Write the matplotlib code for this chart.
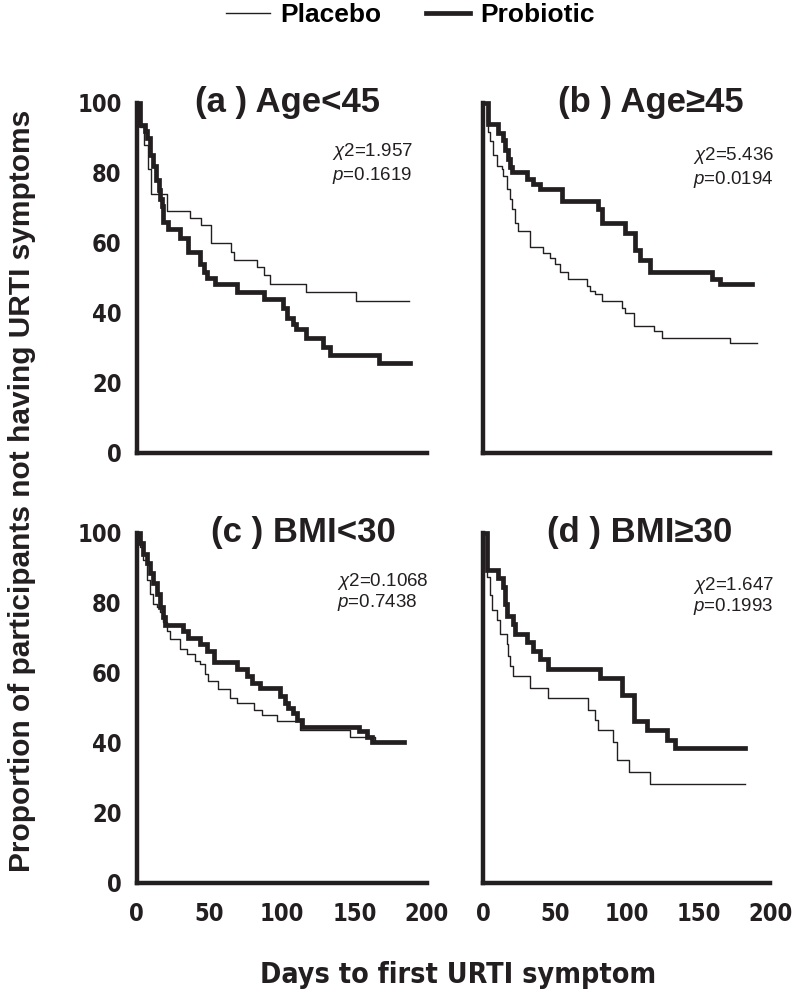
import matplotlib
matplotlib.use("Agg")
import matplotlib.pyplot as plt
from matplotlib.lines import Line2D

plt.rcParams['font.family'] = ['Liberation Sans', 'DejaVu Sans']
plt.rcParams['mathtext.fontset'] = 'custom'
plt.rcParams['mathtext.rm'] = 'Liberation Sans'
plt.rcParams['mathtext.it'] = 'Liberation Sans:italic'

INK = '#231f20'
NARROW = dict(family='DejaVu Sans', stretch='condensed', weight='bold')

# ---- data (day, % without symptoms) ----
# (a) Age<45
a_plac_t = [0, 2, 5, 8, 10, 21, 37, 44, 51, 65, 67, 83, 88, 92, 117, 151, 188]
a_plac_s = [100, 93, 88, 81, 74, 69, 67, 65, 60, 57.5, 55, 53, 50.7, 48.3, 46, 43.5, 43.5]
a_prob_t = [0, 2.3, 5.7, 6.9, 9.2, 11.5, 13.3, 15, 16, 17.2, 18.4, 21.8, 29.9, 35.6, 43.7,
            46, 48.3, 54, 69, 87.4, 101, 103.4, 108, 110, 117, 128.7, 133, 166.7, 188.5]
a_prob_s = [100, 93.7, 92, 90, 85, 82, 78, 75, 72.5, 70.5, 66, 64, 61.4, 57.5, 54,
            51.7, 50, 48.3, 46, 44, 41.5, 38.6, 36.7, 35.3, 32.9, 30.4, 28, 25.6, 25.6]

# (b) Age>=45
b_plac_t = [0, 2.3, 3.5, 4.7, 7, 9.3, 12.8, 14, 16.3, 18.6, 19.8, 22.1, 24.4, 32.6, 41.9,
            46.5, 50, 53.5, 59.3, 72, 74.4, 78, 82.6, 96.5, 98.8, 104.7, 118.6, 124.4, 172, 190.7]
b_plac_s = [100, 94.7, 91.8, 89, 85, 82, 81, 79, 75.4, 72.5, 69.6, 65.7, 63.3, 58.9, 57,
            55.6, 54, 51.7, 49.8, 47.8, 46.4, 45.4, 43.5, 41.5, 40, 36.2, 34.8, 32.9, 31.4, 31.4]
b_prob_t = [0, 3.5, 10.5, 14, 15.1, 17.4, 18.6, 19.8, 30.2, 34.9, 39.5, 54.7, 80.2, 82.6,
            98.8, 105.8, 109.3, 116.3, 159.3, 165, 187.2]
b_prob_s = [100, 94, 91.3, 89.4, 86.5, 84, 81.6, 80.2, 78.3, 76.8, 75.4, 72, 69.6, 65.7,
            62.8, 58, 55, 51.7, 49.8, 48.3, 48.3]

# (c) BMI<30
c_plac_t = [0, 2.3, 4.6, 6.9, 9.2, 11.5, 13.8, 16.1, 18.4, 20.7, 23, 29.9, 34.5, 40.2, 43.7,
            47.1, 49.4, 56.3, 64.4, 69, 80.5, 86.2, 96.6, 112.6, 147, 164.4, 184]
c_plac_s = [100, 96, 92.3, 86.5, 82.7, 79.8, 78.8, 77.4, 74.5, 72, 69.7, 66.8, 65.4, 63.5, 62.5,
            59.6, 57.7, 55.3, 52.9, 51.4, 49.5, 48, 46.2, 43.8, 41.8, 40.4, 40.4]
c_prob_t = [0, 2.3, 4.6, 6.9, 9.2, 11.5, 13.8, 16.1, 18.4, 19.5, 32.2, 35.6, 43.7, 48.3, 52.9,
            69, 75.9, 79.3, 85, 98.9, 102.3, 104.6, 108, 110.3, 113.8, 152.9, 158.6, 162, 184]
c_prob_s = [100, 97, 94, 91.3, 88.5, 85.6, 82.7, 78.8, 76, 73.6, 72, 70, 68.3, 66.3, 63,
            61, 59, 57.2, 55.8, 53.4, 51.4, 50, 48.6, 46.6, 44.7, 43.3, 41.8, 40.4, 40.4]

# (d) BMI>=30
d_plac_t = [0, 2.3, 4.7, 5.8, 9.3, 11.6, 16.3, 17.4, 18.6, 20.9, 32.6, 45.3, 73.3, 77.9,
            80.2, 90.7, 93, 101.2, 116.3, 182.6]
d_plac_s = [100, 87.5, 82.2, 78, 75, 71.2, 68.3, 64.9, 62, 59.1, 55.8, 52.9, 49.5, 46.6,
            43.8, 40.4, 35.1, 31.7, 28.4, 28.4]
d_prob_t = [0, 2.3, 10.5, 14, 15.1, 16.3, 20.9, 22.1, 30.2, 34.9, 39.5, 45.3, 81.4, 96.5,
            104.7, 114, 127.9, 133.7, 182.6]
d_prob_s = [100, 89.4, 87, 84.6, 79.8, 76.4, 74, 71.2, 68.8, 66.3, 63.9, 61, 58.7, 53.8,
            46.2, 43.8, 40.9, 38.5, 38.5]

titles = ['(a ) Age<45', '(b ) Age\u226545', '(c ) BMI<30', '(d ) BMI\u226530']
chi2 = ['1.957', '5.436', '0.1068', '1.647']
pvals = ['0.1619', '0.0194', '0.7438', '0.1993']
placebo = [(a_plac_t, a_plac_s), (b_plac_t, b_plac_s), (c_plac_t, c_plac_s), (d_plac_t, d_plac_s)]
probiotic = [(a_prob_t, a_prob_s), (b_prob_t, b_prob_s), (c_prob_t, c_prob_s), (d_prob_t, d_prob_s)]

fig = plt.figure(figsize=(8, 10.05), dpi=100)

# axes rectangles [left, bottom, width, height]
rects = [[0.171, 0.5493, 0.3625, 0.3483], [0.604, 0.5493, 0.359, 0.3483],
         [0.171, 0.1214, 0.3625, 0.3483], [0.604, 0.1214, 0.359, 0.3483]]
title_x = [0.52, 0.585, 0.575, 0.545]
note_x = [134.5, 146, 138, 146]
note_y = [(86, 79.4), (85, 78), (86, 80), (85.1, 78.9)]

for i in range(4):
    ax = fig.add_axes(rects[i])
    t, s = placebo[i]
    ax.step(t, s, where='post', color=INK, lw=1.0, clip_on=False)
    t, s = probiotic[i]
    ax.step(t, s, where='post', color=INK, lw=3.4, clip_on=False, solid_joinstyle='miter')

    ax.set_xlim(0, 200)
    ax.set_ylim(0, 100)
    for side in ['top', 'right']:
        ax.spines[side].set_visible(False)
    for side in ['left', 'bottom']:
        ax.spines[side].set_linewidth(3.2)
        ax.spines[side].set_color(INK)
    ax.set_xticks([0, 50, 100, 150, 200])
    ax.set_yticks([0, 20, 40, 60, 80, 100])
    ax.tick_params(length=0, colors=INK)
    ax.tick_params(axis='y', pad=11)
    ax.tick_params(axis='x', pad=14)
    if i % 2 == 1:
        ax.set_yticklabels([])
    else:
        for lab in ax.get_yticklabels():
            lab.set(**NARROW, size=17)
    if i < 2:
        ax.set_xticklabels([])
    else:
        for lab in ax.get_xticklabels():
            lab.set(**NARROW, size=17)

    ax.text(title_x[i], 1.0, titles[i], transform=ax.transAxes, ha='center', va='center',
            fontsize=25, fontweight='bold', color=INK)
    ax.text(note_x[i], note_y[i][0], '$\\mathit{\u03c7}$2=' + chi2[i], ha='left', va='center',
            fontsize=13.5, color=INK)
    ax.text(note_x[i], note_y[i][1], '$\\mathit{p}$=' + pvals[i], ha='left', va='center',
            fontsize=13.5, color=INK)

handles = [Line2D([], [], color=INK, lw=1.0), Line2D([], [], color=INK, lw=3.4)]
fig.legend(handles, ['Placebo', 'Probiotic'], loc='center', bbox_to_anchor=(0.513, 0.985),
           ncol=2, frameon=False, handlelength=1.65, handletextpad=0.4, columnspacing=1.7,
           prop={'weight': 'bold', 'size': 19})

fig.text(0.028, 0.512, 'Proportion of participants not having URTI symptoms', rotation=90,
         ha='center', va='center', fontsize=21.5, fontweight='bold', color=INK)
fig.text(0.573, 0.03, 'Days to first URTI symptom', ha='center', va='center',
         size=20.5, color=INK, **NARROW)

fig.savefig('out.png', dpi=100)
